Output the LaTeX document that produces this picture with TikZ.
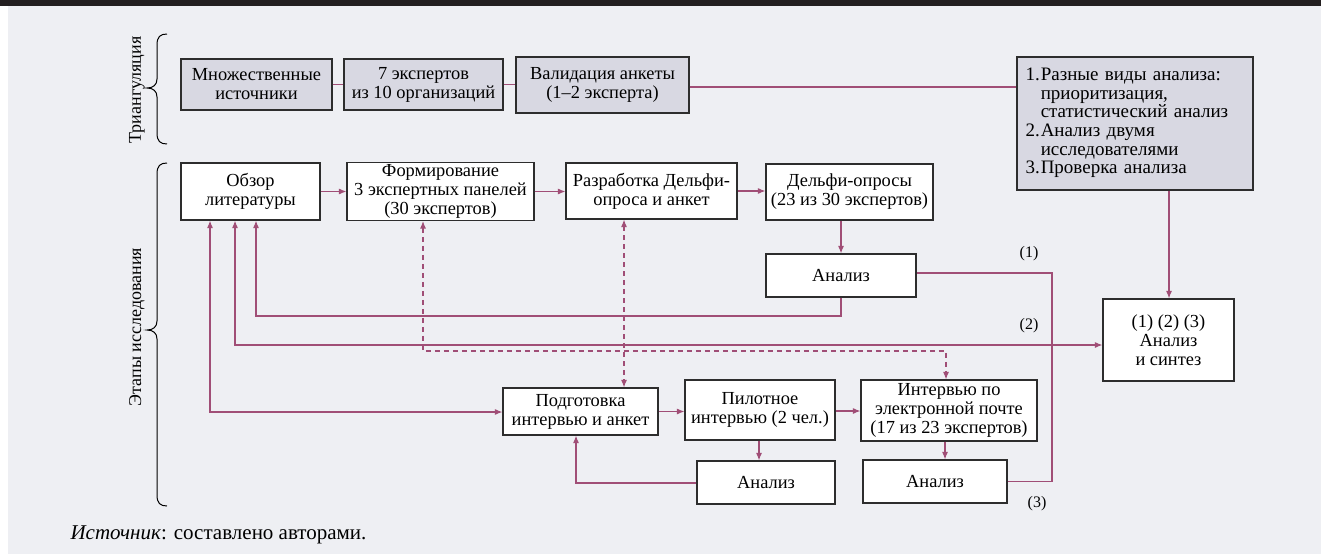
\documentclass[tikz,border=0pt]{standalone}
\usepackage{fontspec}
\setmainfont{Liberation Serif}
\usetikzlibrary{arrows.meta}
\definecolor{bg}{RGB}{238,239,243}
\definecolor{topbar}{RGB}{35,31,32}
\definecolor{boxg}{RGB}{216,216,226}
\definecolor{lnk}{RGB}{160,78,118}
\definecolor{edge}{RGB}{45,45,45}
\begin{document}
\begin{tikzpicture}[x=1pt,y=-1pt,
  box/.style={draw=edge,line width=1.1pt,fill=white,align=center,inner sep=2pt,font=\fontsize{18.4}{19}\selectfont},
  gbox/.style={box,fill=boxg},
  lk/.style={draw=lnk,line width=1.2pt},
  arr/.style={lk,-{Latex[length=7.5pt,width=6pt]}},
  darr/.style={lk,{Latex[length=7.5pt,width=6pt]}-{Latex[length=7.5pt,width=6pt]}},
  dsh/.style={dash pattern=on 5pt off 4pt},
  lab/.style={font=\fontsize{16}{18}\selectfont},
  side/.style={font=\fontsize{18}{20}\selectfont,rotate=90},
  brc/.style={draw=black,line width=1pt}]
% background
\useasboundingbox (0,0) rectangle (1321,554);
\fill[white] (0,0) rectangle (1321,554);
\fill[bg] (8,6) rectangle (1321,554);
\fill[topbar] (0,0) rectangle (1321,6);

% braces and side labels
\draw[brc] (167,34) .. controls (160,34) and (157,37) .. (157,45) -- (157,79)
  .. controls (157,85) and (153,88) .. (147,88)
  .. controls (153,88) and (157,91) .. (157,97) -- (157,133)
  .. controls (157,141) and (160,144) .. (167,144);
\draw[brc] (167,163) .. controls (160,163) and (157,166) .. (157,174) -- (157,321)
  .. controls (157,327) and (153,330) .. (147,330)
  .. controls (153,330) and (157,333) .. (157,339) -- (157,495)
  .. controls (157,503) and (160,506) .. (167,506);
\node[side] (tri) at (137,90) {Триангуляция};
\node[side] (eta) at (137,327) {Этапы исследования};

% triangulation row
\node[gbox,minimum width=151pt,minimum height=51pt] (src) at (256.5,84.5) {Множественные\\источники};
\node[gbox,minimum width=159pt,minimum height=51pt] (exp) at (423.5,84.5) {7 экспертов\\из 10 организаций};
\node[gbox,minimum width=173pt,minimum height=56pt] (val) at (602.5,85) {Валидация анкеты\\(1–2 эксперта)};
\node[gbox,minimum width=236pt,minimum height=133pt,inner xsep=8pt,text width=219pt,align=left,font=\fontsize{19}{18.6}\selectfont] (big) at (1135,123.5)
  {\begin{tabular}{@{}r@{\hspace{1pt}}l@{}}1. & Разные виды анализа:\\ & приоритизация,\\ & статистический анализ\\2. & Анализ двумя\\ & исследователями\\3. & Проверка анализа\end{tabular}};

% stages
\node[box,minimum width=139pt,minimum height=57pt] (lit) at (250.5,191.5) {Обзор\\литературы};
\node[box,minimum width=187pt,minimum height=57pt] (form) at (440.5,191.5) {Формирование\\3 экспертных панелей\\(30 экспертов)};
\node[box,minimum width=171pt,minimum height=56pt] (dev) at (651.5,191) {Разработка Дельфи-\\опроса и анкет};
\node[box,minimum width=167pt,minimum height=56pt] (del) at (849.5,192) {Дельфи-опросы\\(23 из 30 экспертов)};
\node[box,minimum width=150pt,minimum height=43pt] (an1) at (841,275.5) {Анализ};
\node[box,minimum width=155pt,minimum height=47pt] (prep) at (580.5,411.5) {Подготовка\\интервью и анкет};
\node[box,minimum width=150pt,minimum height=60pt] (pil) at (760,410) {Пилотное\\интервью (2 чел.)};
\node[box,minimum width=176pt,minimum height=61pt] (mail) at (949,410.5) {Интервью по\\электронной почте\\(17 из 23 экспертов)};
\node[box,minimum width=138pt,minimum height=43pt] (an2) at (766,482.5) {Анализ};
\node[box,minimum width=144pt,minimum height=43pt] (an3) at (935,481.5) {Анализ};
\node[box,minimum width=131pt,minimum height=82pt] (syn) at (1168.5,340) {(1) (2) (3)\\Анализ\\и синтез};

% coordinates for bends
\coordinate (c1) at (256,316);
\coordinate (c2) at (235,345);
\coordinate (c3) at (210,412);
\coordinate (c4) at (423,351);
\coordinate (c5) at (946,351);
\coordinate (c6) at (624,300);
\coordinate (c7) at (759,450);
\coordinate (c8) at (945,450);
\coordinate (c9) at (576,483);
\coordinate (c10) at (1052,273);
\coordinate (c11) at (841,230);
\coordinate (c12) at (1169,250);

% triangulation links
\draw[lk] (src.east) -- (exp.west);
\draw[lk] (exp.east) -- (exp.east -| val.west);
\draw[lk] ([yshift=-2pt]val.east) -- ([yshift=-2pt]val.east -| big.west);

% main flow
\draw[arr] (lit.east) -- (lit.east -| form.west);
\draw[arr] (form.east) -- (form.east -| dev.west);
\draw[arr] (dev.east) -- (dev.east -| del.west);
\draw[arr] (c11 |- del.south) -- (c11 |- an1.north);
\draw[arr] (c12 |- big.south) -- (c12 |- syn.north);
\draw[arr] (an1.south) -- (an1.south |- c1) -- (c1) -- (c1 |- lit.south);
\draw[darr] (c2 |- lit.south) -- (c2) -- (c2 -| syn.west);
\draw[darr] (c3 |- lit.south) -- (c3) -- (c3 -| prep.west);
\draw[darr,dsh] (c4 |- form.south) -- (c4) -- (c5) -- (c5 |- mail.north);
\draw[darr,dsh] (c6 |- dev.south) -- (c6 |- prep.north);
\draw[arr] (prep.east) -- (prep.east -| pil.west);
\draw[arr] ([yshift=-1pt]pil.east) -- ([yshift=-1pt]pil.east -| mail.west);
\draw[arr] (c7 |- pil.south) -- (c7 |- an2.north);
\draw[arr] (c8 |- mail.south) -- (c8 |- an3.north);
\draw[arr] (an2.west |- c9) -- (c9) -- (c9 |- prep.south);
\draw[lk] (an3.east) -- (an3.east -| c10) -- (c10) -- (c10 -| an1.east);

% labels
\node[lab] (l1) at (1029,254) {(1)};
\node[lab] (l2) at (1029,326) {(2)};
\node[lab] (l3) at (1037,504) {(3)};
\node[anchor=west,font=\fontsize{21}{23}\selectfont] (srcnote) at (67,535) {\textit{Источник}: составлено авторами.};
\end{tikzpicture}
\end{document}
